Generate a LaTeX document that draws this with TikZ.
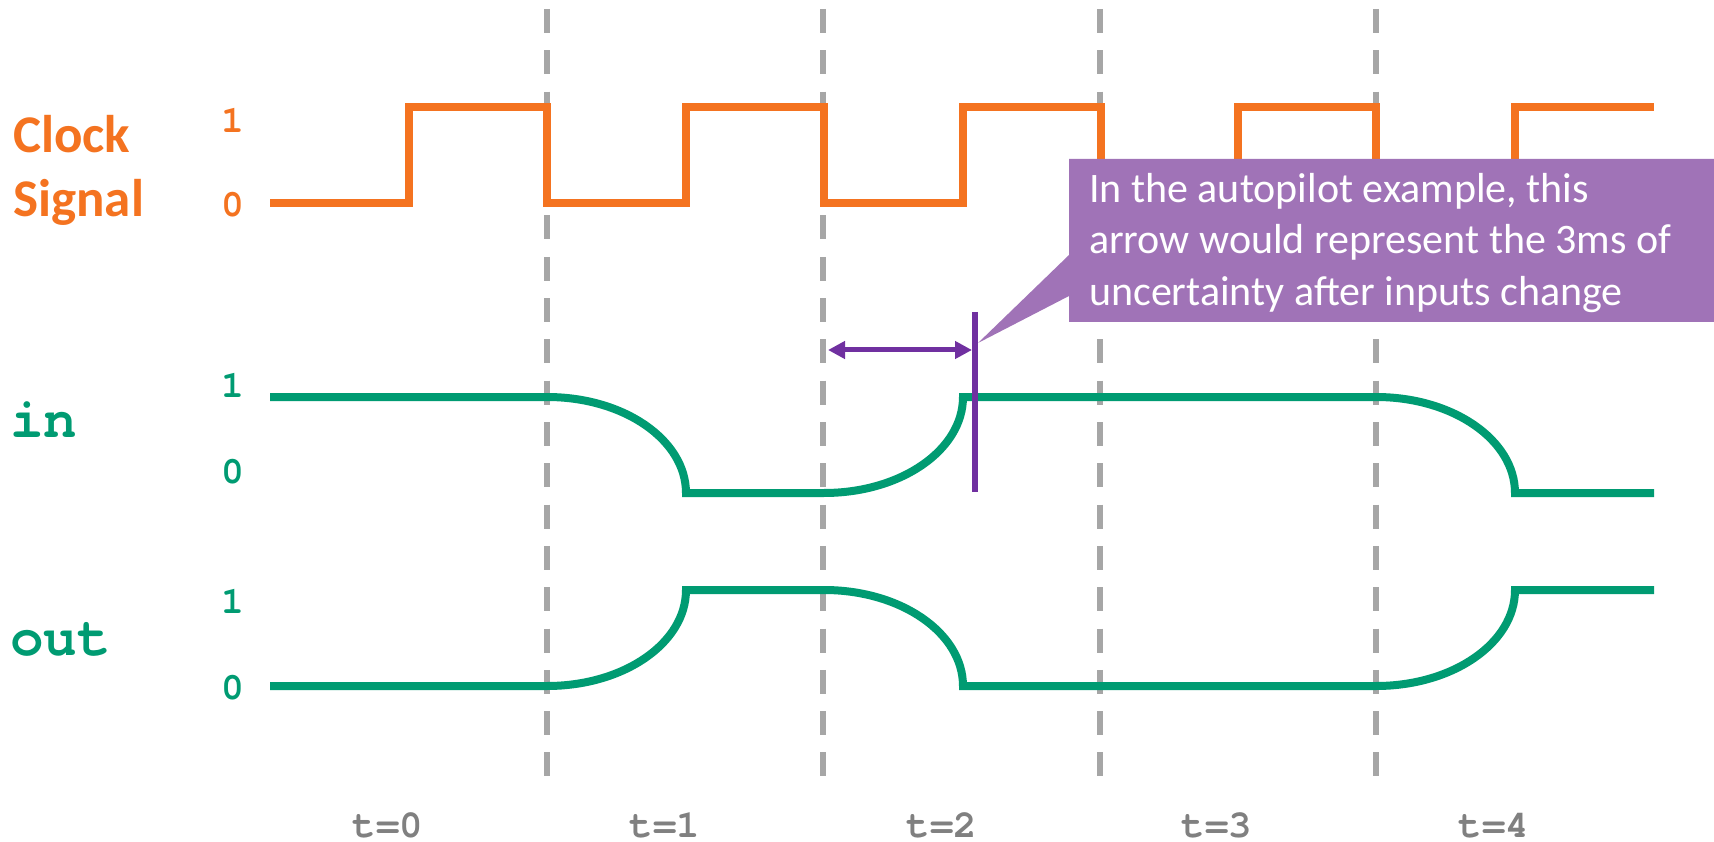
\documentclass[tikz,border=0pt]{standalone}
\usepackage{fontspec}
\newfontfamily\calibri{Carlito}
\newfontfamily\cour{TeX Gyre Cursor}
\usetikzlibrary{arrows.meta}
\definecolor{clk}{RGB}{244,115,32}
\definecolor{sig}{RGB}{0,155,114}
\definecolor{purp}{RGB}{112,48,160}
\definecolor{callfill}{RGB}{160,115,183}
\definecolor{dashgray}{RGB}{166,166,166}
\definecolor{tgray}{RGB}{128,128,128}
\tikzset{
  clockline/.style={draw=clk, line width=8pt, line join=miter},
  sigline/.style={draw=sig, line width=8pt, line join=miter},
  divider/.style={draw=dashgray, line width=6pt, dash pattern=on 24pt off 17.3pt},
  clocklbl/.style={text=clk, font=\calibri\bfseries\fontsize{53}{63}\selectfont, anchor=base west, inner sep=0pt},
  clockdigit/.style={text=clk, font=\cour\bfseries\fontsize{38}{46}\selectfont, inner sep=0pt},
  sigdigit/.style={text=sig, font=\cour\bfseries\fontsize{38}{46}\selectfont, inner sep=0pt},
  siglbl/.style={text=sig, font=\cour\bfseries\fontsize{56}{66}\selectfont, anchor=base west, inner sep=0pt},
  tlbl/.style={text=tgray, font=\cour\bfseries\fontsize{39}{46}\selectfont, anchor=base, inner sep=0pt},
  calltext/.style={text=white, font=\calibri\fontsize{42}{51}\selectfont, anchor=base west, inner sep=0pt},
  marker/.style={draw=purp, line width=6pt},
  span/.style={draw=purp, line width=5pt, {Triangle[length=17pt,width=17pt]}-{Triangle[length=17pt,width=17pt]}}
}
\begin{document}
\begin{tikzpicture}[x=1pt,y=-1pt]
\useasboundingbox (0,0) rectangle (1714,842);
% dividers
\foreach \xx/\nm in {547/d1,823/d2,1100/d3,1376/d4}{
  \coordinate (\nm top) at (\xx,9);
  \coordinate (\nm bot) at (\xx,776);
  \draw[divider] (\nm top) -- (\nm bot);
}
% labels
\node[clocklbl] (clock) at (13,153) {Clock};
\node[clocklbl] (signal) at (13,217) {Signal};
\node[clockdigit] (c1) at (233,120) {1};
\node[clockdigit] (c0) at (233,205) {0};
\node[siglbl] (inlbl) at (10,437) {in};
\node[siglbl] (outlbl) at (10,655) {out};
\node[sigdigit] (i1) at (233,385) {1};
\node[sigdigit] (i0) at (233,472) {0};
\node[sigdigit] (o1) at (233,601) {1};
\node[sigdigit] (o0) at (233,688) {0};
% clock
\draw[clockline] (270,203) -- (409,203) -- (409,107) -- (547,107) -- (547,203) -- (686,203) -- (686,107) -- (824,107) -- (824,203) -- (963,203) -- (963,107) -- (1101,107) -- (1101,203) -- (1238,203) -- (1238,107) -- (1376,107) -- (1376,203) -- (1515,203) -- (1515,107) -- (1654,107);
% in
\draw[sigline] (270,397) -- (547,397) .. controls (624,397) and (686,440) .. (686,493) -- (824,493) .. controls (901,493) and (963,450) .. (963,397) -- (1376,397) .. controls (1453,397) and (1515,440) .. (1515,493) -- (1654,493);
% out
\draw[sigline] (270,686) -- (547,686) .. controls (624,686) and (686,643) .. (686,590) -- (824,590) .. controls (901,590) and (963,633) .. (963,686) -- (1376,686) .. controls (1453,686) and (1515,643) .. (1515,590) -- (1654,590);
% purple marker and arrow
\coordinate (mtop) at (975,312);
\coordinate (mbot) at (975,492);
\draw[marker] (mtop) -- (mbot);
\coordinate (aleft) at (828,350);
\coordinate (aright) at (972,350);
\draw[span] (aleft) -- (aright);
% time labels
\node[tlbl] (t0) at (388,837) {t=0};
\node[tlbl] (t1) at (665,837) {t=1};
\node[tlbl] (t2) at (942,837) {t=2};
\node[tlbl] (t3) at (1217,837) {t=3};
\node[tlbl] (t4) at (1494,837) {t=4};
% callout
\coordinate (tip) at (978,343);
\fill[callfill] (1069,159) -- (1714,159) -- (1714,322) -- (1069,322) -- (1069,296) -- (tip) -- (1069,255) -- cycle;
\node[calltext] (l1) at (1089,203) {In the autopilot example, this};
\node[calltext] (l2) at (1089,254) {arrow would represent the 3ms of};
\node[calltext] (l3) at (1089,306) {uncertainty after inputs change};
\end{tikzpicture}
\end{document}
